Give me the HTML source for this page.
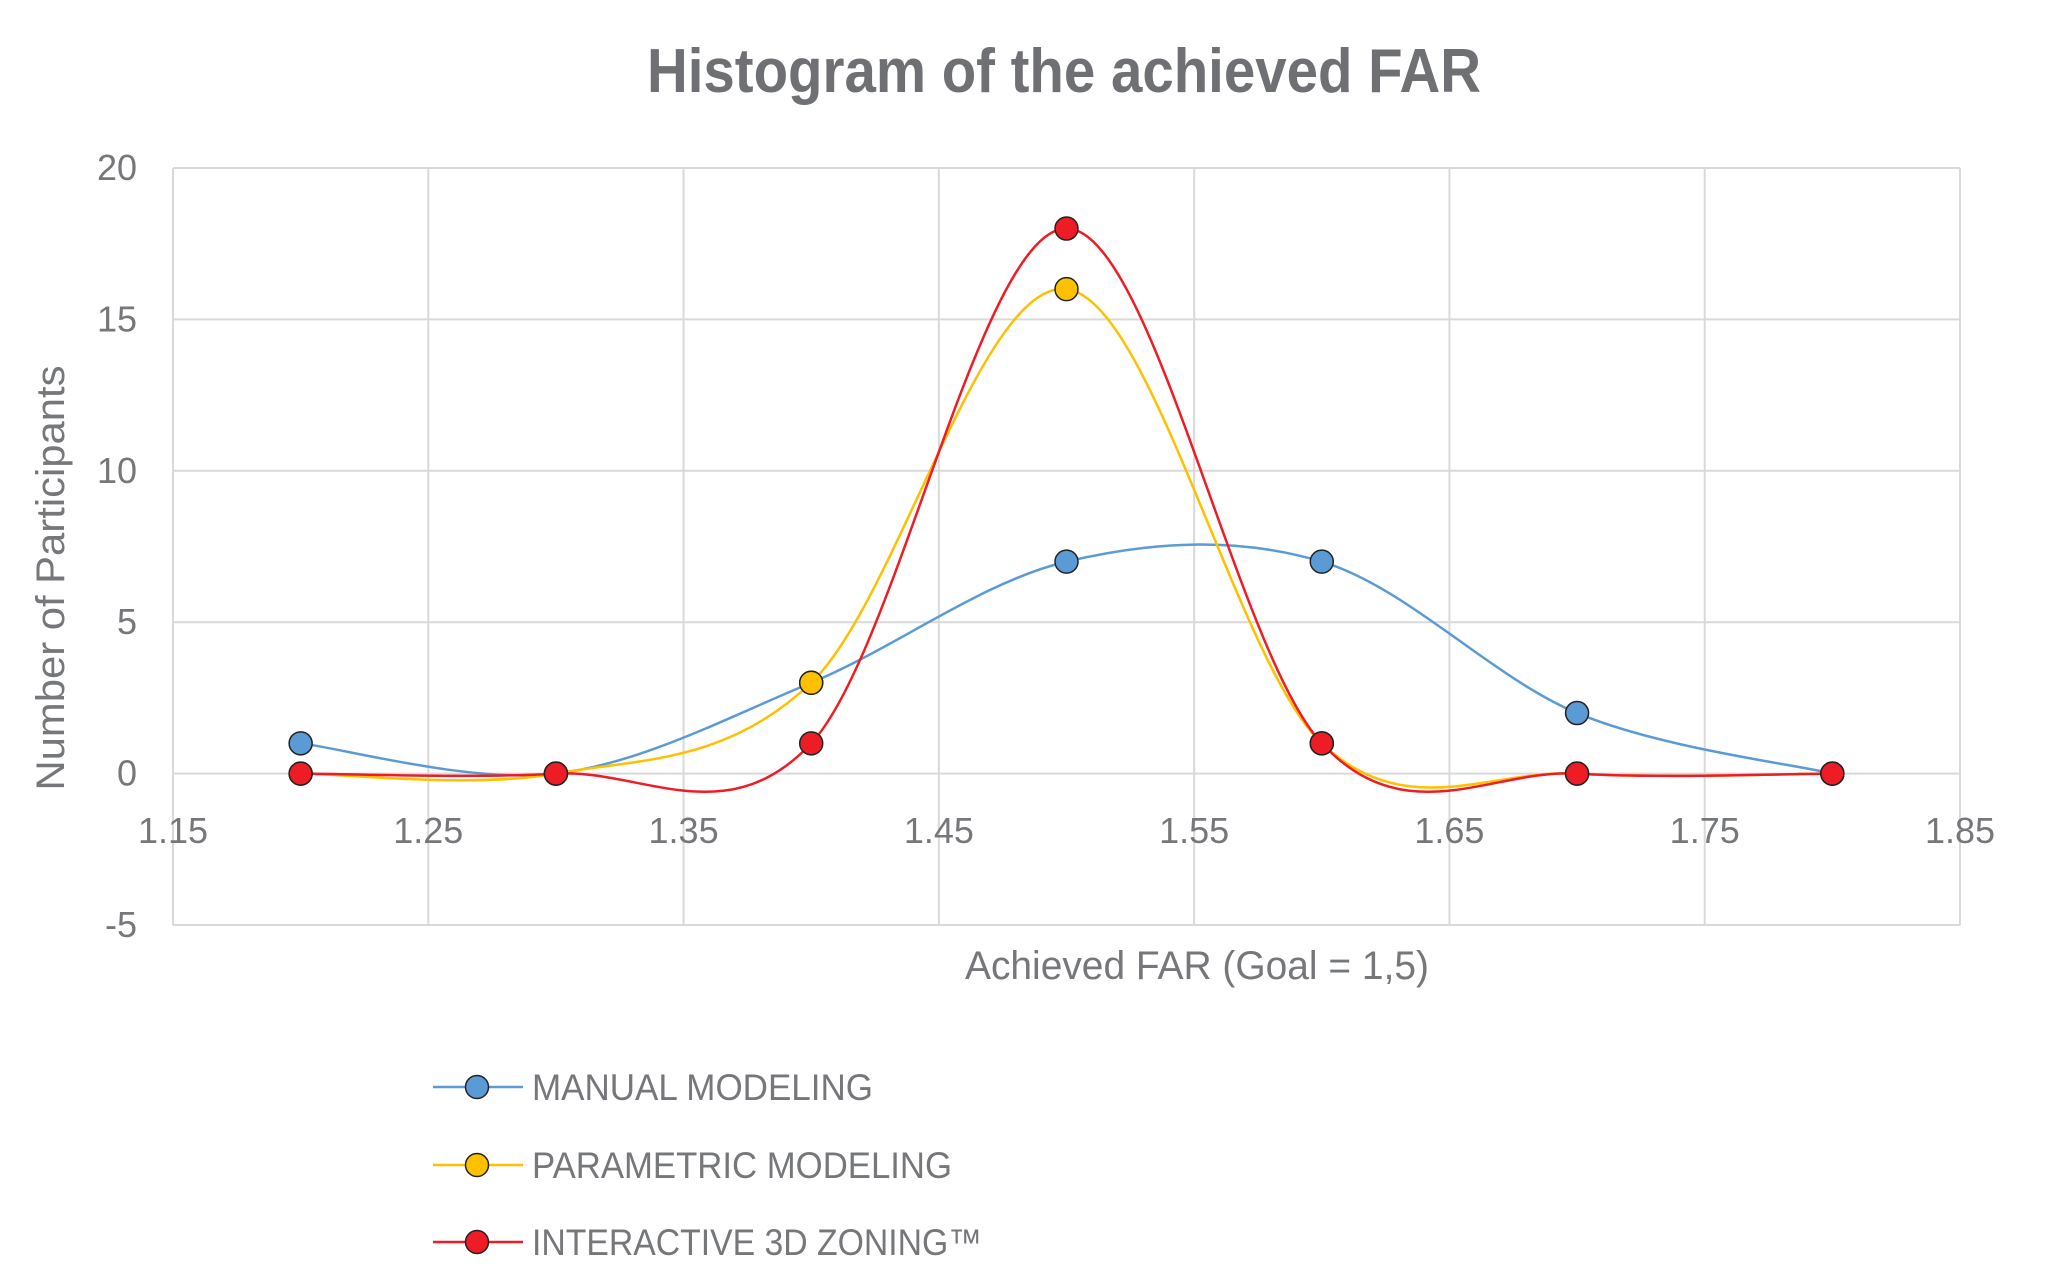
<!DOCTYPE html>
<html><head><meta charset="utf-8"><style>
body{margin:0;background:#fff}
svg text{font-family:"Liberation Sans Narrow","Liberation Sans",sans-serif;fill:#76777a}
</style></head><body>
<svg id="chart" width="2048" height="1282" viewBox="0 0 2048 1282" xmlns="http://www.w3.org/2000/svg">
<text x="1064" y="92" text-anchor="middle" font-size="62" font-weight="bold" textLength="834" lengthAdjust="spacingAndGlyphs" style="fill:#6f7073">Histogram of the achieved FAR</text>
<g id="grid"></g>
<g id="series"></g>
<text transform="translate(64,578) rotate(-90)" text-anchor="middle" font-size="40" textLength="425" lengthAdjust="spacingAndGlyphs">Number of Participants</text>
<text x="1197" y="979" text-anchor="middle" font-size="40" textLength="464" lengthAdjust="spacingAndGlyphs">Achieved FAR (Goal = 1,5)</text>
<g id="legend"></g>
</svg>
<script>
const xCats=[1.2,1.3,1.4,1.5,1.6,1.7,1.8];
const manual=[1,0,3,7,7,2,0];
const parametric=[0,0,3,16,1,0,0];
const interactive=[0,0,1,18,1,0,0];
const xTicks=[1.15,1.25,1.35,1.45,1.55,1.65,1.75,1.85];
const yTicks=[-5,0,5,10,15,20];
const seriesNames=["MANUAL MODELING","PARAMETRIC MODELING","INTERACTIVE 3D ZONING™"];
const NS="http://www.w3.org/2000/svg";
const L=173,R=1960,T=168,B=925;
const xs=v=>L+(v-1.15)/(1.85-1.15)*(R-L);
const ys=v=>B-(v+5)/25*(B-T);
function mk(tag,attrs,parent){const e=document.createElementNS(NS,tag);for(const k in attrs)e.setAttribute(k,attrs[k]);parent.appendChild(e);return e;}
const grid=document.getElementById('grid');
yTicks.forEach(t=>{
  const l=mk('line',{x1:L,x2:R,y1:ys(t),y2:ys(t),stroke:'#d9d9d9','stroke-width':2},grid);
  
  
  const tx=mk('text',{x:137,y:ys(t)+12,'text-anchor':'end','font-size':36},grid);
  tx.textContent=t;
  
  
});
xTicks.forEach(t=>{
  const l=mk('line',{x1:xs(t),x2:xs(t),y1:T,y2:B,stroke:'#d9d9d9','stroke-width':2},grid);
  
  
  const tx=mk('text',{x:xs(t),y:843,'text-anchor':'middle','font-size':36},grid);
  tx.textContent=t.toFixed(2);
  
  
});
function smooth(pts){
  let d=`M${pts[0][0]},${pts[0][1]}`;
  for(let i=0;i<pts.length-1;i++){
    const p0=pts[Math.max(0,i-1)],p1=pts[i],p2=pts[i+1],p3=pts[Math.min(pts.length-1,i+2)];
    const c1=[p1[0]+(p2[0]-p0[0])/6,p1[1]+(p2[1]-p0[1])/6];
    const c2=[p2[0]-(p3[0]-p1[0])/6,p2[1]-(p3[1]-p1[1])/6];
    d+=` C${c1[0]},${c1[1]} ${c2[0]},${c2[1]} ${p2[0]},${p2[1]}`;
  }
  return d;
}
const data=[manual,parametric,interactive];
const colors=['#5b9bd5','#ffc000','#ee1c25'];
const keys=['manual','parametric','interactive'];
const legendWidths=[341,420,450];
const sg=document.getElementById('series');
data.forEach((vals,si)=>{
  const pts=vals.map((v,i)=>[xs(xCats[i]),ys(v)]);
  const p=mk('path',{d:smooth(pts),fill:'none',stroke:colors[si],'stroke-width':2.5},sg);
  
  
});
data.forEach((vals,si)=>{
  vals.forEach((v,i)=>{
    const c=mk('circle',{cx:xs(xCats[i]),cy:ys(v),r:11.5,fill:colors[si],stroke:'#222','stroke-width':1.5},sg);
    
    
  });
});
const lg=document.getElementById('legend');
[1087,1165,1242].forEach((y,si)=>{
  const g=mk('g',{},lg);
  
  
  mk('line',{x1:433,x2:523,y1:y,y2:y,stroke:colors[si],'stroke-width':2.5},g);
  mk('circle',{cx:477,cy:y,r:11.5,fill:colors[si],stroke:'#222','stroke-width':1.5},g);
  const t=mk('text',{x:532,y:y+13,'font-size':37,textLength:legendWidths[si],lengthAdjust:'spacingAndGlyphs'},g);
  t.textContent=seriesNames[si];
});
</script>
</body></html>
